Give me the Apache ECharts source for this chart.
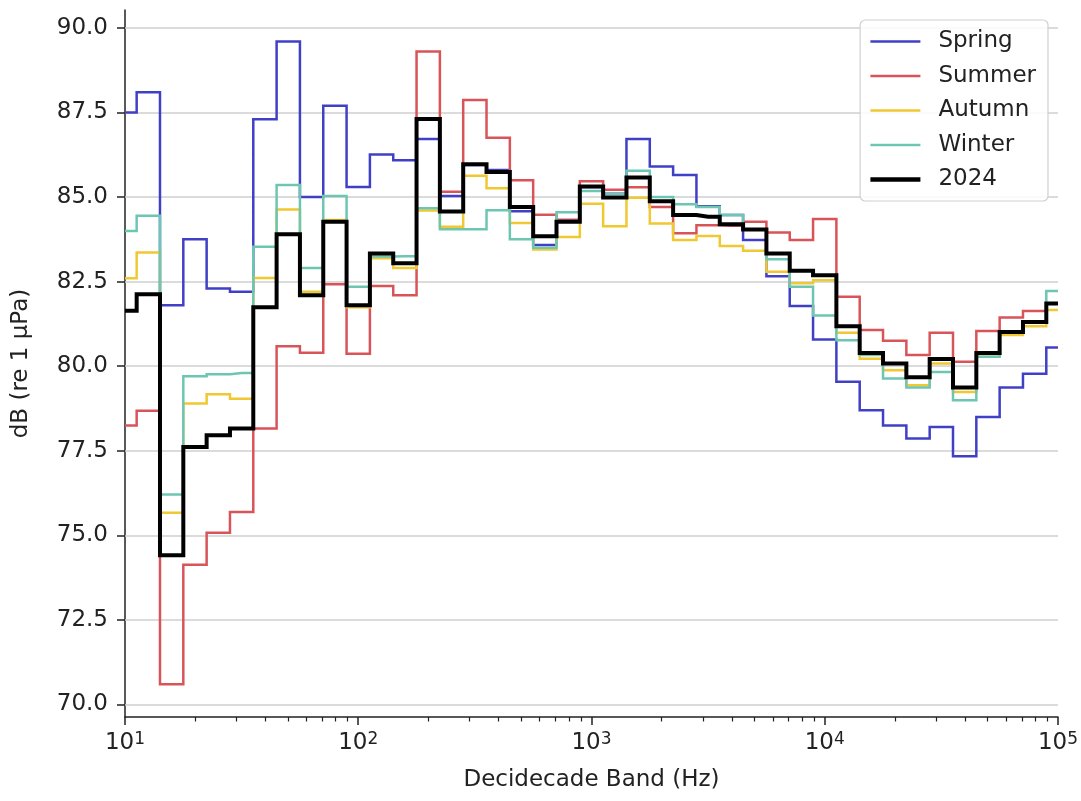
<!DOCTYPE html>
<html>
<head>
<meta charset="utf-8">
<script src="https://cdn.jsdelivr.net/npm/echarts@6/dist/echarts.min.js"></script>
<style>
html,body{margin:0;padding:0;background:#fff;}
#chart{width:1081px;height:801px;}
</style>
</head>
<body>
<div id="chart"></div>
<script>
// Decidecade band centre frequencies (Hz)
const freqs = [10, 12.589, 15.849, 19.953, 25.119, 31.623, 39.811, 50.119, 63.096, 79.433,
  100, 125.89, 158.49, 199.53, 251.19, 316.23, 398.11, 501.19, 630.96, 794.33,
  1000, 1258.9, 1584.9, 1995.3, 2511.9, 3162.3, 3981.1, 5011.9, 6309.6, 7943.3,
  10000, 12589, 15849, 19953, 25119, 31623, 39811, 50119, 63096, 79433, 100000];

const spring = [87.5, 88.1, 81.8, 83.75, 82.3, 82.2, 87.3, 89.6, 85.0, 87.7,
  85.3, 86.26, 86.09, 86.72, 85.03, 85.95, 85.8, 84.58, 83.58, 84.32,
  85.3, 85.1, 86.72, 85.9, 85.65, 84.73, 84.47, 83.73, 82.66, 81.78,
  80.79, 79.54, 78.7, 78.25, 77.86, 78.2, 77.34, 78.5, 79.37, 79.78, 80.55];

const summer = [78.25, 78.68, 70.6, 74.13, 75.08, 75.69, 78.16, 80.59, 80.4, 82.42,
  80.37, 82.37, 82.1, 89.3, 85.16, 87.87, 86.75, 85.5, 84.48, 84.32,
  85.47, 85.22, 85.29, 84.71, 83.93, 84.17, 84.15, 84.27, 83.95, 83.73,
  84.35, 82.05, 81.07, 80.75, 80.33, 80.99, 80.13, 81.04, 81.44, 81.63, 81.85];

const autumn = [82.6, 83.36, 75.67, 78.9, 79.17, 79.04, 82.61, 84.63, 82.2, 84.32,
  81.74, 83.19, 82.9, 84.6, 84.12, 85.63, 85.26, 84.23, 83.45, 83.82,
  84.8, 84.14, 84.98, 84.22, 83.73, 83.85, 83.55, 83.41, 82.79, 82.45,
  82.54, 80.99, 80.22, 79.88, 79.44, 80.08, 79.24, 80.28, 80.92, 81.18, 81.66];

const winter = [84.0, 84.45, 76.21, 79.7, 79.76, 79.8, 83.53, 85.36, 82.9, 85.03,
  82.35, 83.24, 83.25, 84.67, 84.05, 84.05, 84.61, 83.75, 83.5, 84.55,
  85.18, 85.09, 85.78, 85.0, 84.79, 84.71, 84.47, 84.04, 83.16, 82.35,
  81.5, 80.77, 80.33, 79.64, 79.37, 79.83, 78.99, 80.28, 81.0, 81.3, 82.22];

const y2024 = [81.64, 82.13, 74.41, 77.61, 77.96, 78.16, 81.74, 83.9, 82.1, 84.27,
  81.8, 83.33, 83.04, 87.31, 84.57, 85.97, 85.74, 84.71, 83.84, 84.27,
  85.31, 84.99, 85.58, 84.88, 84.47, 84.42, 84.2, 84.04, 83.33, 82.82,
  82.69, 81.18, 80.39, 80.08, 79.67, 80.21, 79.37, 80.39, 81.01, 81.31, 81.85];

const seriesNames = ['Spring', 'Summer', 'Autumn', 'Winter', '2024'];
const yTicks = [70, 72.5, 75, 77.5, 80, 82.5, 85, 87.5, 90];
const xMajorTicks = [10, 100, 1000, 10000, 100000];
const xTickExponents = ['1', '2', '3', '4', '5'];
const xMinorTicks = [20, 30, 40, 50, 60, 70, 80, 90,
  200, 300, 400, 500, 600, 700, 800, 900,
  2000, 3000, 4000, 5000, 6000, 7000, 8000, 9000,
  20000, 30000, 40000, 50000, 60000, 70000, 80000, 90000];

const colors = ['#4040c6', '#d95459', '#f0c832', '#6dc6b2', '#000000'];
const widths = [2.5, 2.5, 2.5, 2.5, 4];
const seriesData = [spring, summer, autumn, winter, y2024];
const FONT = 'DejaVu Sans';
const TXT = '#222';

const series = seriesNames.map((name, i) => {
  const s = {
    name: name,
    type: 'line',
    step: 'middle',
    symbol: 'none',
    showSymbol: false,
    data: freqs.map((f, j) => [f, seriesData[i][j]]),
    lineStyle: { color: colors[i], width: widths[i], join: 'miter' },
    itemStyle: { color: colors[i] },
    z: 3 + i,
    animation: false
  };
  if (i === 0) {
    s.markLine = {
      silent: true,
      symbol: ['none', 'none'],
      label: { show: false },
      z: 1,
      animation: false,
      lineStyle: { color: '#cfcfcf', width: 1.5, type: 'solid' },
      emphasis: { disabled: true },
      data: yTicks.map(v => ({ yAxis: v }))
    };
  }
  return s;
});

const chart = echarts.init(document.getElementById('chart'), null, { renderer: 'canvas' });
chart.setOption({
  animation: false,
  backgroundColor: '#fff',
  textStyle: { fontFamily: FONT, color: TXT },
  grid: { left: 125, right: 23, top: 10, bottom: 84, containLabel: false },
  legend: {
    orient: 'vertical',
    right: 33,
    top: 20,
    padding: [10, 12, 10, 8],
    itemGap: 11.5,
    itemWidth: 50,
    itemHeight: 14,
    backgroundColor: 'rgba(255,255,255,0.85)',
    borderColor: '#d0d0d0',
    borderWidth: 1.2,
    borderRadius: 5,
    itemStyle: { opacity: 0 },
    lineStyle: { width: 2.5 },
    textStyle: { fontFamily: FONT, fontSize: 23, color: TXT, lineHeight: 23, padding: [0, 0, 0, 13] },
    data: seriesNames.map((n, i) => i === 4 ? { name: n, lineStyle: { width: 4.5 } } : { name: n })
  },
  xAxis: [{
    type: 'log',
    logBase: 10,
    min: 10,
    max: 100000,
    position: 'bottom',
    name: 'Decidecade Band (Hz)',
    nameLocation: 'middle',
    nameGap: 52,
    nameTextStyle: { fontFamily: FONT, fontSize: 23, color: TXT },
    axisLine: { show: true, lineStyle: { color: '#222', width: 1.5 } },
    axisTick: { show: true, customValues: xMajorTicks, length: 8, lineStyle: { color: '#222', width: 1.5 } },
    axisLabel: {
      customValues: xMajorTicks,
      margin: 14,
      formatter: function (v) {
        const idx = xMajorTicks.indexOf(v);
        const e = idx >= 0 ? xTickExponents[idx] : '';
        return '{b|10}{s|' + e + '}';
      },
      rich: {
        b: { fontFamily: FONT, fontSize: 23, lineHeight: 24, color: TXT },
        s: { fontFamily: FONT, fontSize: 17, lineHeight: 17, color: TXT, verticalAlign: 'top' }
      }
    },
    splitLine: { show: false },
    minorTick: { show: false }
  }, {
    type: 'log',
    logBase: 10,
    min: 10,
    max: 100000,
    position: 'bottom',
    axisLine: { show: false },
    axisTick: { show: true, customValues: xMinorTicks, length: 4.5, lineStyle: { color: '#222', width: 1.2 } },
    axisLabel: { show: false },
    splitLine: { show: false }
  }],
  yAxis: {
    type: 'value',
    min: 69.63,
    max: 90.53,
    name: 'dB (re 1 µPa)',
    nameLocation: 'middle',
    nameGap: 92,
    nameTextStyle: { fontFamily: FONT, fontSize: 23, color: TXT },
    axisLine: { show: true, lineStyle: { color: '#222', width: 1.5 } },
    axisTick: { show: true, customValues: yTicks, length: 8, lineStyle: { color: '#222', width: 1.5 } },
    axisLabel: {
      customValues: yTicks,
      margin: 17,
      fontFamily: FONT,
      fontSize: 23,
      color: TXT,
      formatter: v => Number(v).toFixed(1)
    },
    splitLine: { show: false }
  },
  series: series
});
</script>
</body>
</html>
